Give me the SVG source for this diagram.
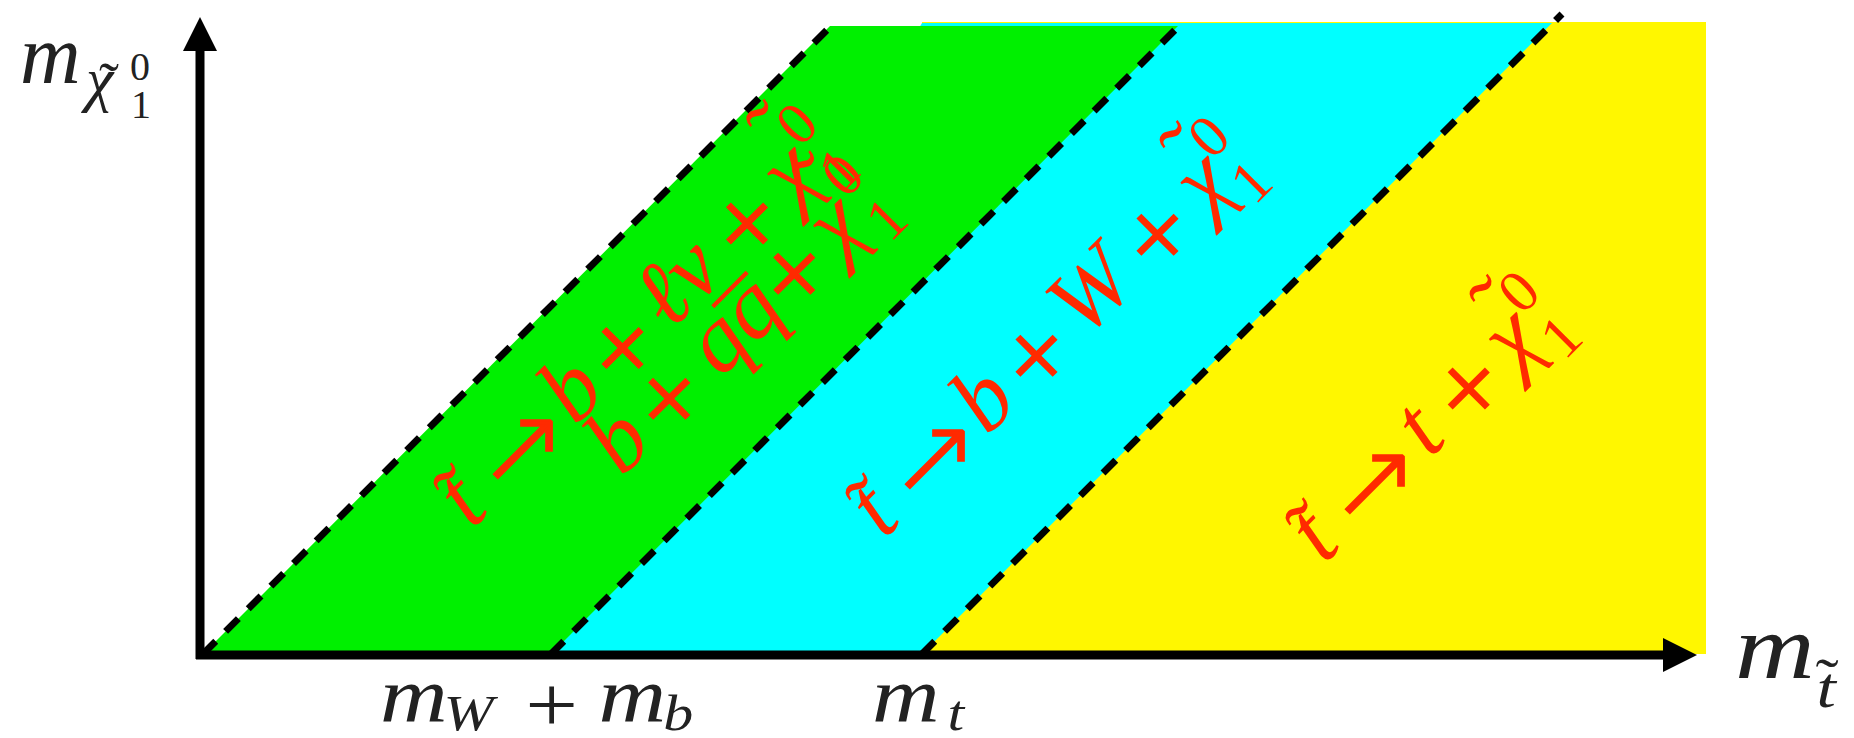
<svg xmlns="http://www.w3.org/2000/svg" width="1854" height="738" viewBox="0 0 1854 738">
<style>
.rt{font-family:"Liberation Serif",serif;font-style:italic;font-size:94px;fill:#ff2a00}
.op{font-family:"DejaVu Sans",sans-serif;font-style:normal;font-size:84px}
.ar{font-family:"DejaVu Sans",sans-serif;font-style:normal;font-weight:200;font-size:106px;stroke:#ff2a00;stroke-width:2.5}
.acc{font-style:normal}
.sc{font-size:60px;font-style:normal}
.lbl{font-family:"Liberation Serif",serif;font-style:italic;fill:#222}
.up{font-style:normal}
.dash{fill:none;stroke:#000;stroke-width:7;stroke-dasharray:18 14}
.axis{stroke:#000;stroke-width:9;fill:none}
</style>
<g id="regions">
<rect id="yellow" x="922" y="22" width="784" height="632" fill="#fff700"/>
<polygon id="cyan" points="551,654 922,654 1552,23 922,23" fill="#00ffff"/>
<polygon id="green" points="203,654 551,654 1178,26 830,26" fill="#00f000"/>
</g>
<g id="connectors">
<line class="dash" x1="203" y1="654" x2="832" y2="25"/>
<line class="dash" x1="551" y1="654" x2="1183" y2="22"/>
<line class="dash" x1="922" y1="654" x2="1562" y2="14"/>
<line class="axis" x1="196" y1="655" x2="1665" y2="655"/>
<polygon points="1663,638 1697,655 1663,672" fill="#000"/>
<line class="axis" x1="200" y1="659" x2="200" y2="49"/>
<polygon points="183,51 200,17 217,51" fill="#000"/>
</g>
<g id="label-green" transform="translate(472,530) rotate(-45)">
<text class="rt">
<tspan x="0" y="0">t</tspan><tspan class="acc" x="3" y="0">˜</tspan>
<tspan class="ar" x="49" y="12">→</tspan>
<tspan x="146" y="0">b</tspan>
<tspan class="op" x="200" y="4">+</tspan>
<tspan x="280" y="0">ℓν</tspan>
<tspan class="op" x="376" y="4">+</tspan>
<tspan x="456" y="0">χ</tspan><tspan class="acc" x="481" y="-36">˜</tspan>
<tspan class="sc" x="502" y="-38">0</tspan><tspan class="sc" x="500" y="24">1</tspan>
</text>
<text class="rt">
<tspan x="143" y="69">b</tspan>
<tspan class="op" x="197" y="73">+</tspan>
<tspan x="283" y="69">qq</tspan><tspan class="acc" x="329" y="81">¯</tspan>
<tspan class="op" x="374" y="73">+</tspan>
<tspan x="452" y="69">χ</tspan><tspan class="acc" x="477" y="33">˜</tspan>
<tspan class="sc" x="498" y="31">0</tspan><tspan class="sc" x="498" y="93">1</tspan>
</text>
</g>
<g id="label-cyan" transform="translate(884,540) rotate(-45)">
<text class="rt">
<tspan x="0" y="0">t</tspan><tspan class="acc" x="3" y="0">˜</tspan>
<tspan class="ar" x="49" y="12">→</tspan>
<tspan x="146" y="0">b</tspan>
<tspan class="op" x="203" y="4">+</tspan>
<tspan x="283" y="0">W</tspan>
<tspan class="op" x="374" y="4">+</tspan>
<tspan x="458" y="0">χ</tspan><tspan class="acc" x="474" y="-27">˜</tspan>
<tspan class="sc" x="500" y="-36">0</tspan><tspan class="sc" x="498" y="26">1</tspan>
</text>
</g>
<g id="label-yellow" transform="translate(1324,565) rotate(-45)">
<text class="rt">
<tspan x="0" y="0">t</tspan><tspan class="acc" x="3" y="0">˜</tspan>
<tspan class="ar" x="49" y="12">→</tspan>
<tspan x="150" y="0">t</tspan>
<tspan class="op" x="192" y="4">+</tspan>
<tspan x="272" y="0">χ</tspan><tspan class="acc" x="291" y="-28">˜</tspan>
<tspan class="sc" x="316" y="-36">0</tspan><tspan class="sc" x="314" y="26">1</tspan>
</text>
</g>
<g id="label-yaxis">
<text class="lbl" font-size="84"><tspan x="20" y="83">m</tspan><tspan font-size="62" x="86" y="100">χ</tspan><tspan class="up" font-size="60" x="99" y="103">˜</tspan><tspan class="up" font-size="40" x="130" y="80">0</tspan><tspan class="up" font-size="40" x="131" y="118">1</tspan></text>
</g>
<g id="label-xaxis" transform="translate(1735,678) scale(1.2,1)">
<text class="lbl" font-size="92"><tspan x="0" y="0">m</tspan><tspan font-size="58" x="68" y="29">t</tspan><tspan class="up" font-size="58" x="67" y="20">˜</tspan></text>
</g>
<g id="label-mwmb" transform="translate(380,722) scale(1.2,1)">
<text class="lbl" font-size="78"><tspan x="0" y="0">m</tspan><tspan font-size="50" x="53" y="8">W</tspan><tspan class="up" x="121" y="9">+</tspan><tspan x="182" y="0">m</tspan><tspan font-size="50" x="236" y="8">b</tspan></text>
</g>
<g id="label-mt" transform="translate(872,722) scale(1.2,1)">
<text class="lbl" font-size="78"><tspan x="0" y="0">m</tspan><tspan font-size="50" x="63" y="8">t</tspan></text>
</g>
</svg>
